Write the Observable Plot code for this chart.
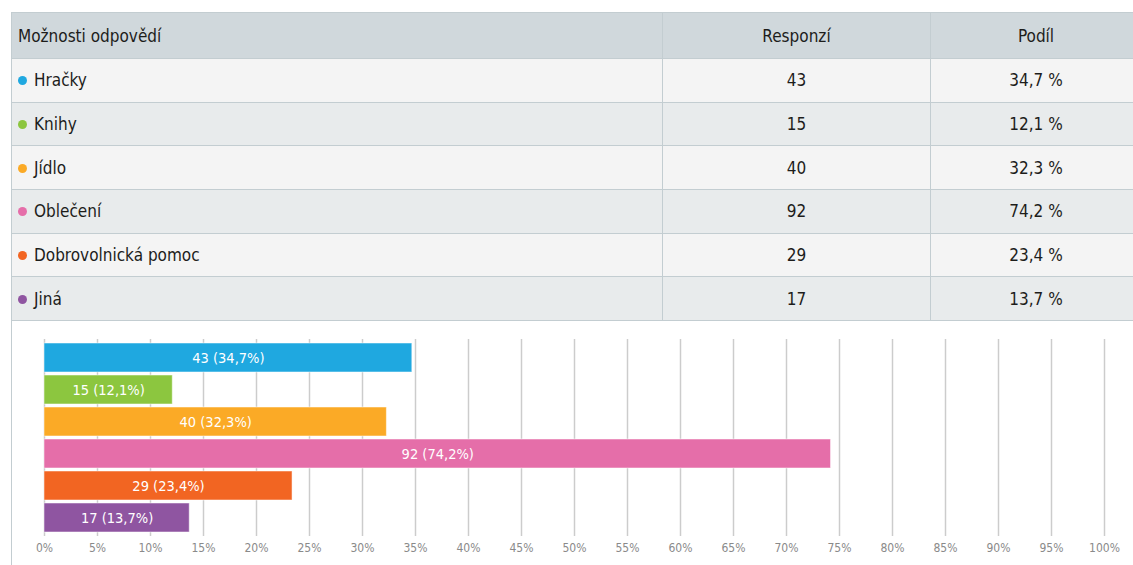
<!DOCTYPE html>
<html>
<head>
<meta charset="utf-8">
<script src="https://cdn.jsdelivr.net/npm/d3@7"></script>
<script src="https://cdn.jsdelivr.net/npm/@observablehq/plot@0.6"></script>
<style>
  html, body { margin: 0; padding: 0; background: #fff; overflow: hidden; width: 1133px; height: 565px; }
  #wrap { position: absolute; left: 11px; top: 12px; width: 1130px; }
  table { border-collapse: collapse; width: 1130px; table-layout: fixed;
    font-family: "DejaVu Sans Condensed", "Liberation Sans Narrow", "Roboto", sans-serif; font-size: 17px; color: #1d1d1b; }
  th, td { border: 1px solid #c3cdd1; height: 42.7px; padding: 0; }
  th { background: #d0d8dc; font-weight: normal; height: 45px; }
  th.first, td.first { text-align: left; padding-left: 6px; }
  td.num, th.num { text-align: center; }
  tr.odd td { background: #f4f4f4; }
  tr.even td { background: #e8ebec; }
  .dot { display: inline-block; width: 9px; height: 9px; border-radius: 50%; margin-right: 7px; vertical-align: 1px; }
  #chart { border-left: 1px solid #c3cdd1; height: 245px; width: 1122px; }
  #chart svg { display: block; }
</style>
</head>
<body>
<div id="wrap">
  <table id="tbl"></table>
  <div id="chart"></div>
</div>
<script>
const headers = ["Možnosti odpovědí", "Responzí", "Podíl"];
const categories = ["Hračky", "Knihy", "Jídlo", "Oblečení", "Dobrovolnická pomoc", "Jiná"];
const responses = [43, 15, 40, 92, 29, 17];
const shares = [34.7, 12.1, 32.3, 74.2, 23.4, 13.7];
const colors = ["#1fa8e0", "#8cc63f", "#fbaa26", "#e56ea9", "#f26522", "#8f55a1"];
const xTicks = [0, 5, 10, 15, 20, 25, 30, 35, 40, 45, 50, 55, 60, 65, 70, 75, 80, 85, 90, 95, 100];

const fmt = v => v.toFixed(1).replace(".", ",");

// Table
const tbl = d3.select("#tbl");
const cg = tbl.append("colgroup");
cg.append("col").style("width", "651px");
cg.append("col").style("width", "268px");
cg.append("col").style("width", "211px");
const hr = tbl.append("tr");
hr.append("th").attr("class", "first").text(headers[0]);
hr.append("th").attr("class", "num").text(headers[1]);
hr.append("th").attr("class", "num").text(headers[2]);
categories.forEach((c, i) => {
  const tr = tbl.append("tr").attr("class", i % 2 === 0 ? "odd" : "even");
  const td = tr.append("td").attr("class", "first");
  td.append("span").attr("class", "dot").style("background", colors[i]);
  td.append("span").text(c);
  tr.append("td").attr("class", "num").text(responses[i]);
  tr.append("td").attr("class", "num").text(fmt(shares[i]) + " %");
});

// Chart
const data = categories.map((c, i) => ({
  cat: c, n: responses[i], pct: shares[i], color: colors[i],
  label: `${responses[i]} (${fmt(shares[i])}%)`
}));

const plot = Plot.plot({
  width: 1122,
  height: 245,
  marginLeft: 32,
  marginRight: 30,
  marginTop: 18,
  marginBottom: 30,
  style: { fontFamily: "'DejaVu Sans Condensed', 'Liberation Sans Narrow', sans-serif", fontSize: "12px", background: "transparent" },
  x: { domain: [0, 100], ticks: xTicks, tickFormat: d => d + "%", label: null },
  y: { domain: categories, paddingInner: 0.08, paddingOuter: 0.05, axis: null },
  marks: [
    Plot.gridX(xTicks, { stroke: "#cccccc", strokeOpacity: 1, strokeWidth: 1.5 }),
    Plot.axisX(xTicks, { tickSize: 0, tickPadding: 7, fill: "#8a8a8a", tickFormat: d => d + "%", label: null }),
    Plot.barX(data, { x: "pct", y: "cat", fill: "color", stroke: "#ffffff", strokeOpacity: 0.5, strokeWidth: 1 }),
    Plot.text(data, { x: d => d.pct / 2, y: "cat", text: "label", fill: "#ffffff", fontSize: 14.5 })
  ]
});
document.getElementById("chart").appendChild(plot);
</script>
</body>
</html>
